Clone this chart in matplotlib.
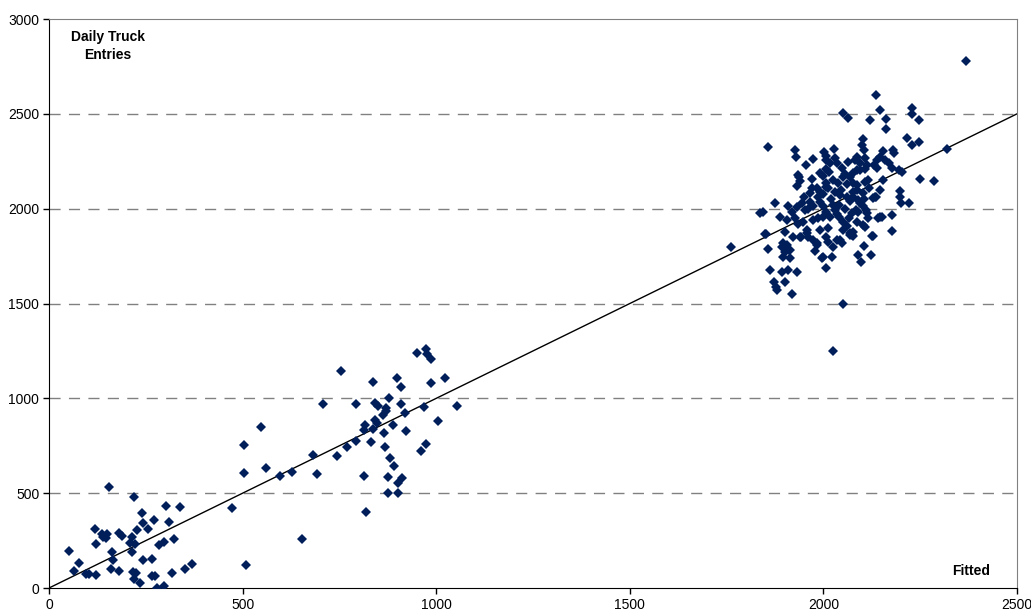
import numpy as np
import matplotlib
matplotlib.use("Agg")
import matplotlib.pyplot as plt

plt.rcParams['font.family'] = ['Liberation Sans', 'DejaVu Sans']

# low-volume gates
low_x = [51, 64, 77, 95, 104, 122, 120, 122, 136, 140, 146, 151, 155, 164, 166, 159, 182, 181, 188, 210,
         214, 215, 220, 222, 228, 241, 242, 242, 216, 225, 220, 235, 257, 265, 265, 271, 275, 278, 285, 298,
         296, 301, 310, 318, 322, 338, 351, 370]
low_y = [195, 91, 134, 74, 74, 68, 313, 232, 285, 271, 262, 285, 534, 191, 148, 98, 90, 288, 274, 236,
         191, 271, 478, 232, 306, 394, 341, 148, 86, 77, 46, 28, 309, 151, 63, 359, 63, 2, 227, 244,
         11, 434, 350, 81, 260, 425, 98, 125]

# mid-volume gates
mid_x = [473, 510, 504, 504, 548, 560, 596, 627, 654, 681, 691, 707, 745, 755, 770, 793, 794, 814, 819, 817,
         814, 831, 836, 838, 842, 842, 846, 850, 863, 865, 868, 870, 871, 879, 880, 875, 875, 888, 891, 898,
         901, 902, 908, 910, 913, 920, 922, 951, 961, 968, 974, 973, 976, 987, 987, 1004, 1024, 1053]
mid_y = [424, 120, 752, 608, 851, 633, 590, 612, 260, 700, 602, 968, 698, 1144, 743, 773, 970, 590, 402, 859,
         833, 772, 1088, 837, 886, 977, 868, 960, 911, 816, 745, 947, 935, 1003, 684, 587, 502, 859, 643, 1106,
         552, 499, 1062, 969, 578, 925, 826, 1237, 721, 953, 758, 1260, 1234, 1209, 1079, 880, 1107, 960]

# high-volume gates
high_x = [2369, 2137, 2051, 2064, 2146, 2120, 2162, 2162, 2229, 2230, 2248, 2103, 2216, 2228, 2248, 2320, 2249, 2286,
          2198, 2198, 2200, 2220, 2177, 2181, 2183, 2153, 2146, 2159, 2138, 2170, 2176, 2196, 2202, 2131, 2139, 2153,
          2146, 2136, 2127, 2101, 2105, 2108, 2113, 2108, 2116, 2118, 2103, 2113, 2146, 2103,
          2178, 2127, 2105, 2122, 2090, 2097, 2142, 2152, 2111, 2116, 2086, 2103, 2108, 2077, 2075, 2073, 2077, 2086,
          2108, 2134, 2077, 2090, 2094, 2081, 2077, 2094, 2094, 2077,
          1858, 1927, 1929, 1955, 1974, 2002, 2007, 2027, 2030, 2034, 2017, 2064, 2086, 1991, 2008, 2047, 2056, 2051,
          2086, 1935, 1940, 1933, 1970, 1965, 1983, 1991, 2008, 2013, 2030, 2039, 2043, 2060, 2086,
          1875, 1909, 1918, 1933, 1944, 1952, 1965, 1974, 1991, 2000, 2008, 2017, 2030, 2000,
          1836, 1843, 1888, 1905, 1927, 1935, 1948, 1974, 1987,
          1853, 1921, 1940, 1957, 1961, 1974, 1991, 2013, 2007, 1983, 2026, 2034, 2047, 2068, 2051,
          1761, 1858, 1892, 1905, 1901, 1914, 1896, 1914, 2000, 2021, 1997,
          1862, 1892, 1909, 1931, 2008, 1872, 1877, 1881, 1901, 1920, 2050, 2026,
          2125, 2068, 2077, 2043, 2013, 1983, 1978, 1958, 1942, 1901, 1849, 1896, 1901, 1912, 1938, 2008, 2008,
          2020, 2040, 2055, 2070, 2045, 2025, 2060, 2000, 1985, 2035, 2065, 2050, 2090, 2000, 2070, 2015, 1960, 2105,
          1950, 2060, 2040, 2085, 2025, 1970]
high_y = [2780, 2601, 2503, 2480, 2520, 2469, 2471, 2422, 2529, 2501, 2466, 2366, 2373, 2334, 2350, 2315, 2156, 2147,
          2095, 2063, 2032, 2028, 1968, 2309, 2295, 2306, 2274, 2257, 2257, 2239, 2213, 2204, 2192, 2230, 2213, 2151,
          2098, 2060, 2055, 2336, 2309, 2265, 2230, 2207, 2151, 2107, 2081, 1976, 1958, 2012,
          1884, 1856, 1803, 1756, 1756, 1720, 1949, 1954, 1993, 1949, 1931, 1914, 1905, 1879, 1861, 1976, 2063, 2125,
          2143, 2063, 2090, 2046, 2028, 2257, 2186, 2204, 2239, 2134,
          2327, 2309, 2274, 2230, 2260, 2300, 2278, 2315, 2265, 2239, 2239, 2248, 2274, 2186, 2207, 2213, 2183, 2169,
          2204, 2177, 2148, 2120, 2155, 2084, 2107, 2090, 2134, 2107, 2090, 2134, 2072, 2063, 2098,
          2032, 2012, 1985, 2009, 2028, 1993, 2037, 2012, 2037, 2012, 1985, 1958, 1993, 1958,
          1976, 1985, 1954, 1940, 1949, 1919, 1931, 1940, 1949,
          1866, 1849, 1849, 1888, 1852, 1835, 1888, 1896, 1852, 1808, 1800, 1835, 1817, 1861, 1888,
          1796, 1789, 1800, 1808, 1773, 1782, 1747, 1738, 1747, 1747, 1738,
          1677, 1668, 1677, 1668, 1686, 1615, 1585, 1571, 1615, 1548, 1496, 1251,
          1858, 1870, 1856, 1835, 1826, 1817, 1777, 1870, 1852, 1879, 1866, 1817, 1791, 1782, 2169, 2257, 2116,
          2050, 2020, 2000, 2040, 2100, 2150, 2130, 2080, 2060, 1970, 1950, 1930, 1980, 2170, 2165, 2195, 2000, 2050,
          2060, 1910, 1955, 1995, 2020, 2110]

fitted_x = [0, 2500]
fitted_y = [0, 2500]

x = low_x + mid_x + high_x
y = low_y + mid_y + high_y

fig = plt.figure(figsize=(10.31, 6.14), dpi=100)
ax = fig.add_axes([0.0475, 0.0423, 0.9389, 0.9267])

ax.set_xlim(0, 2500)
ax.set_ylim(0, 3000)

for gy in [500, 1000, 1500, 2000, 2500]:
    ax.axhline(gy, color='#808080', linewidth=1, dashes=(8, 6), zorder=1)

ax.plot(fitted_x, fitted_y, color='black', linewidth=1, zorder=2)
ax.plot(x, y, linestyle='none', marker='D', markersize=4.6, color='#001E5A',
        markeredgewidth=0, zorder=3)

ax.set_xticks([0, 500, 1000, 1500, 2000, 2500])
ax.set_yticks([0, 500, 1000, 1500, 2000, 2500, 3000])
ax.tick_params(direction='out', length=4, width=1, labelsize=10, colors='black', pad=3)

ax.spines['left'].set_color('black')
ax.spines['bottom'].set_color('black')
ax.spines['top'].set_color('#808080')
ax.spines['right'].set_color('#808080')

ax.text(0.061, 0.9525, 'Daily Truck\nEntries', transform=ax.transAxes, ha='center', va='center',
        fontsize=10, fontweight='bold', linespacing=1.3)
ax.text(0.953, 0.030, 'Fitted', transform=ax.transAxes, ha='center', va='center',
        fontsize=10, fontweight='bold')

fig.savefig('out.png', dpi=100)
